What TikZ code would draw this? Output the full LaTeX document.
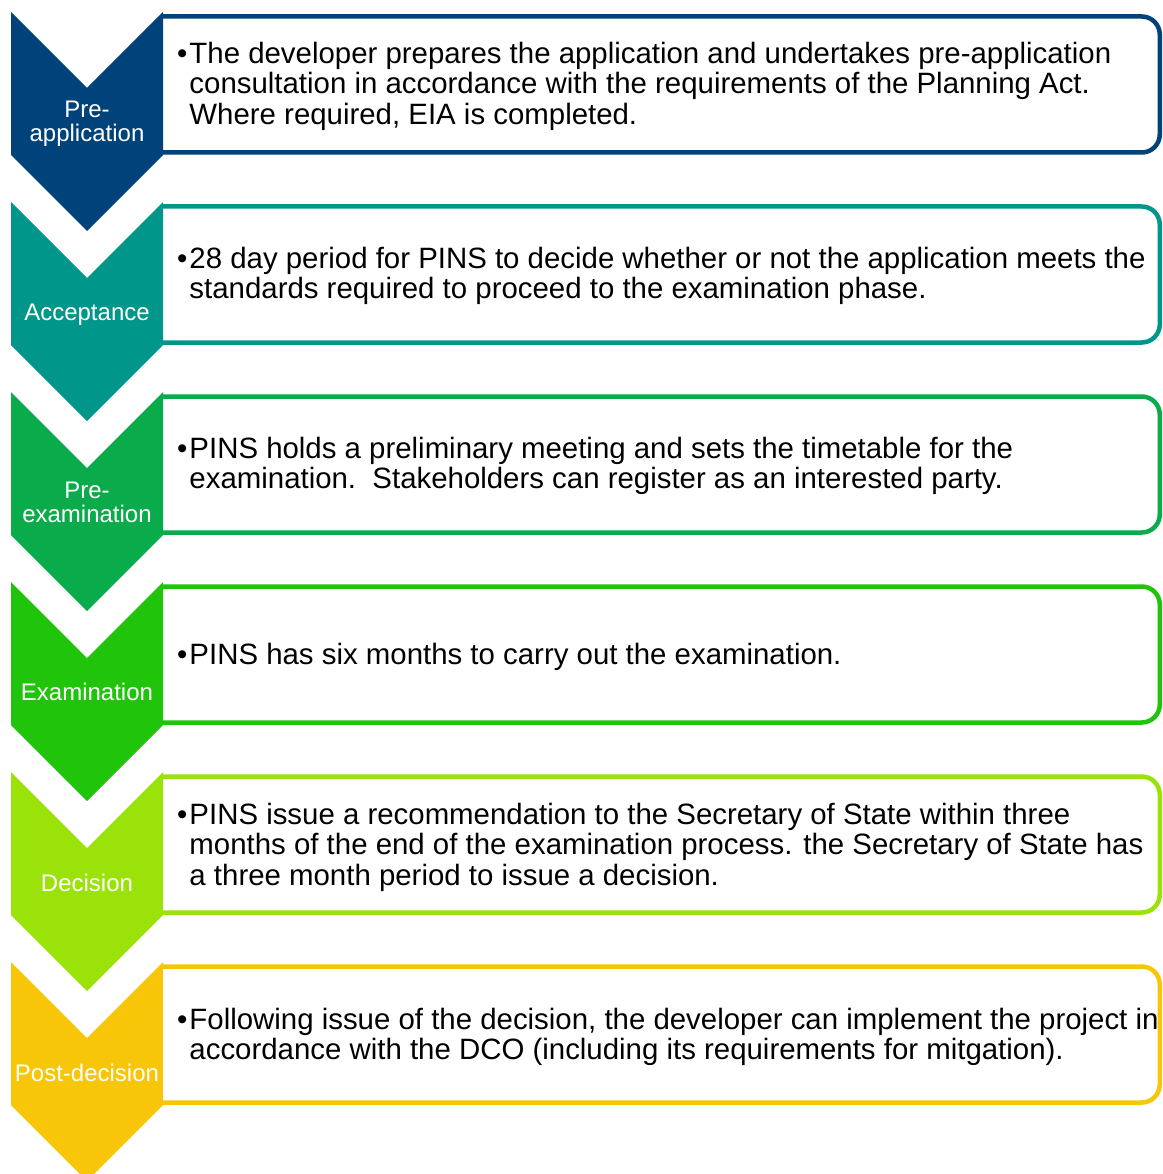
\documentclass[tikz,border=0pt]{standalone}
\usepackage{fontspec}
\setmainfont{Liberation Sans}
\definecolor{cA}{HTML}{00427A}
\definecolor{cB}{HTML}{00968A}
\definecolor{cC}{HTML}{09AB4A}
\definecolor{cD}{HTML}{20C40A}
\definecolor{cE}{HTML}{9BE20A}
\definecolor{cF}{HTML}{F7C608}
\tikzset{
  boxline/.style={line width=4.5pt, rounded corners=18pt},
  lab/.style={text=white, align=center, inner sep=0pt, font=\fontsize{24}{24}\selectfont},
  txt/.style={anchor=west, inner sep=0pt, text=black, font=\fontsize{29.4}{30.6}\selectfont},
}
\newcommand{\chev}[2]{\fill[#1] (11,#2) -- (87,#2+76) -- (163,#2) -- (163,#2+143) -- (87,#2+219) -- (11,#2+143) -- cycle;}
\newcommand{\stagebox}[2]{\draw[#1, boxline] (163,#2+4.5) -- (1159.75,#2+4.5) -- (1159.75,#2+140.5) -- (163,#2+140.5);}
\begin{document}
\begin{tikzpicture}[x=1pt, y=-1pt]
\useasboundingbox (0,0) rectangle (1162,1174);
\clip (0,0) rectangle (1162,1174);
% stage 1
\stagebox{cA}{12}
\chev{cA}{12}
\node[lab] (l1) at (87,123.5) {Pre-\\application};
\node[txt] (t1) at (177,87.5) {\begin{tabular}{@{}l@{\hspace{2pt}}l@{}}\textbullet & The developer prepares the application and undertakes pre-application\\ & consultation in accordance with the requirements of the Planning Act.\\ & Where required, EIA is completed.\end{tabular}};
% stage 2
\stagebox{cB}{202}
\chev{cB}{202}
\node[lab] (l2) at (87,315) {Acceptance};
\node[txt] (t2) at (177,277.5) {\begin{tabular}{@{}l@{\hspace{2pt}}l@{}}\textbullet & 28 day period for PINS to decide whether or not the application meets the\\ & standards required to proceed to the examination phase.\end{tabular}};
% stage 3
\stagebox{cC}{392}
\chev{cC}{392}
\node[lab] (l3) at (87,502) {Pre-\\examination};
\node[txt] (t3) at (177,467.5) {\begin{tabular}{@{}l@{\hspace{2pt}}l@{}}\textbullet & PINS holds a preliminary meeting and sets the timetable for the\\ & examination.\ \ Stakeholders can register as an interested party.\end{tabular}};
% stage 4
\stagebox{cD}{582}
\chev{cD}{582}
\node[lab] (l4) at (87,692) {Examination};
\node[txt] (t4) at (177,658) {\begin{tabular}{@{}l@{\hspace{2pt}}l@{}}\textbullet & PINS has six months to carry out the examination.\end{tabular}};
% stage 5
\stagebox{cE}{772}
\chev{cE}{772}
\node[lab] (l5) at (87,883) {Decision};
\node[txt] (t5) at (177,848.5) {\begin{tabular}{@{}l@{\hspace{2pt}}l@{}}\textbullet & PINS issue a recommendation to the Secretary of State within three\\ & months of the end of the examination process. the Secretary of State has\\ & a three month period to issue a decision.\end{tabular}};
% stage 6
\stagebox{cF}{962}
\chev{cF}{962}
\node[lab] (l6) at (87,1073) {Post-decision};
\node[txt] (t6) at (177,1038.5) {\begin{tabular}{@{}l@{\hspace{2pt}}l@{}}\textbullet & Following issue of the decision, the developer can implement the project in\\ & accordance with the DCO (including its requirements for mitgation).\end{tabular}};
\end{tikzpicture}
\end{document}
